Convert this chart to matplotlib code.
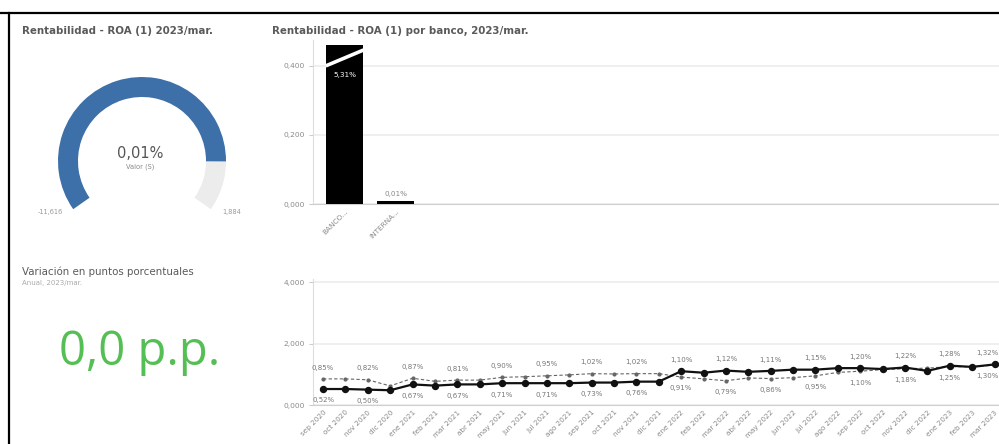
import matplotlib
matplotlib.use("Agg")
import matplotlib.pyplot as plt
from matplotlib.patches import Wedge
from matplotlib.lines import Line2D

W, H = 999, 444

# gauge
gauge_min = -11.616
gauge_max = 1.884
gauge_value = 0.01

# bars by bank
banks = ["BANCO...", "INTERNA..."]
bank_roa = [5.31, 0.01]
bar_ticks = [0.0, 0.2, 0.4]

# KPI
variation_pp = 0.0

# monthly series
months = ["sep 2020", "oct 2020", "nov 2020", "dic 2020",
          "ene 2021", "feb 2021", "mar 2021", "abr 2021", "may 2021", "jun 2021",
          "jul 2021", "ago 2021", "sep 2021", "oct 2021", "nov 2021", "dic 2021",
          "ene 2022", "feb 2022", "mar 2022", "abr 2022", "may 2022", "jun 2022",
          "jul 2022", "ago 2022", "sep 2022", "oct 2022", "nov 2022", "dic 2022",
          "ene 2023", "feb 2023", "mar 2023"]
roa_bank = [0.52, 0.52, 0.50, 0.48, 0.67, 0.63, 0.67, 0.67, 0.71, 0.71,
            0.71, 0.71, 0.73, 0.73, 0.76, 0.76, 1.10, 1.05, 1.12, 1.08,
            1.11, 1.15, 1.15, 1.20, 1.20, 1.17, 1.22, 1.11, 1.28, 1.24, 1.32]
roa_system = [0.85, 0.85, 0.82, 0.62, 0.87, 0.77, 0.81, 0.81, 0.90, 0.92,
              0.95, 0.98, 1.02, 1.01, 1.02, 1.02, 0.91, 0.85, 0.79, 0.88,
              0.86, 0.89, 0.95, 1.06, 1.10, 1.15, 1.18, 1.20, 1.25, 1.24, 1.30]
line_ticks = [0.0, 2.0, 4.0]

TITLE = "#5a5a5a"
AXIS = "#8a8a8a"
GRID = "#ececec"


def rect(x0, y0, x1, y1):
    return [x0 / W, 1 - y1 / H, (x1 - x0) / W, (y1 - y0) / H]


def ftxt(fig, x, y, s, **kw):
    fig.text(x / W, 1 - y / H, s, **kw)


def fmt(v, nd=3, pct=False):
    s = f"{v:.{nd}f}".replace(".", ",")
    return s + "%" if pct else s


def style_axes(ax):
    for side in ["top", "right"]:
        ax.spines[side].set_visible(False)
    ax.spines["left"].set_color("#dddddd")
    ax.spines["bottom"].set_color("#cfcfcf")
    ax.tick_params(axis="y", labelsize=5.4, labelcolor=AXIS, color="#cccccc",
                   length=3, width=0.8, pad=3)
    ax.tick_params(axis="x", labelsize=5.2, labelcolor=AXIS, length=0, pad=3)
    ax.set_axisbelow(True)


def main():
    fig = plt.figure(figsize=(W / 100, H / 100), dpi=100)
    plt.rcParams["font.family"] = ["DejaVu Sans"]

    # frame lines
    fig.add_artist(Line2D([0, 1], [1 - 13 / H] * 2, color="black", lw=1.6))
    fig.add_artist(Line2D([8.5 / W] * 2, [0, 1 - 13 / H], color="black", lw=1.6))

    # titles
    ftxt(fig, 22, 31, "Rentabilidad - ROA (1) 2023/mar.", fontsize=7.4,
         fontweight="bold", color=TITLE, va="center")
    ftxt(fig, 272, 31, "Rentabilidad - ROA (1) por banco, 2023/mar.", fontsize=7.4,
         fontweight="bold", color=TITLE, va="center")
    ftxt(fig, 22, 272, "Variación en puntos porcentuales", fontsize=7.4,
         color=TITLE, va="center")
    ftxt(fig, 22, 283, "Anual, 2023/mar.", fontsize=5, color="#aaaaaa", va="center")

    # KPI
    kpi = f"{variation_pp:.1f}".replace(".", ",") + " p.p."
    ftxt(fig, 140, 352, kpi, fontsize=34, color="#55bf55", ha="center", va="center",
         family=["Open Sans", "DejaVu Sans"])

    # gauge
    cx, cy = 142, 161
    ax_g = fig.add_axes(rect(30, 55, 255, 225))
    ax_g.set_xlim(30 - cx, 255 - cx)
    ax_g.set_ylim(cy - 225, cy - 55)
    ax_g.axis("off")
    a0, a1 = 215, -35
    frac = (gauge_value - gauge_min) / (gauge_max - gauge_min)
    a_val = a0 - frac * (a0 - a1)
    ax_g.add_patch(Wedge((0, 0), 84, a1, a_val, width=20, color="#ececec", lw=0))
    ax_g.add_patch(Wedge((0, 0), 84, a_val, a0, width=20, color="#3d6fa9", lw=0))
    ax_g.text(-2, 8, fmt(gauge_value, 2, True), fontsize=10.5, color="#555555",
              ha="center", va="center")
    ax_g.text(-2, -6, "Valor (S)", fontsize=4.8, color="#888888",
              ha="center", va="center")
    ax_g.text(-92, -51, fmt(gauge_min), fontsize=4.8, color="#999999",
              ha="center", va="center")
    ax_g.text(90, -51, fmt(gauge_max), fontsize=4.8, color="#999999",
              ha="center", va="center")

    # bar chart
    ax_b = fig.add_axes(rect(313, 40, 999, 204))
    ax_b.set_ylim(0, 0.475)
    ax_b.set_xlim(-0.62, 12.83)
    cap = 0.461
    xs = list(range(len(banks)))
    heights = [min(v, cap) for v in bank_roa]
    ax_b.bar(xs, heights, width=0.73, color="black", zorder=3)
    for x, v, h in zip(xs, bank_roa, heights):
        if v > cap:
            ax_b.plot([x - 0.37, x + 0.37], [0.400, 0.446], color="white",
                      lw=2.6, zorder=4, solid_capstyle="butt")
            ax_b.text(x, 0.374, fmt(v, 2, True), fontsize=5.2, color="white",
                      ha="center", va="center", zorder=5)
        else:
            ax_b.text(x, h + 0.018, fmt(v, 2, True), fontsize=5.2, color="#888888",
                      ha="center", va="center")
    ax_b.set_yticks(bar_ticks)
    ax_b.set_yticklabels([fmt(t) for t in bar_ticks])
    ax_b.set_xticks(xs)
    ax_b.set_xticklabels(banks, rotation=45, ha="right", rotation_mode="anchor")
    ax_b.grid(axis="y", color=GRID, lw=1.2, zorder=0)
    style_axes(ax_b)

    # line chart
    ax_l = fig.add_axes(rect(313, 279, 999, 405))
    ax_l.set_ylim(0, 4.1)
    ax_l.set_xlim(-0.45, len(months) - 0.8)
    idx = list(range(len(months)))
    ax_l.plot(idx, roa_system, color="#666666", lw=0.8, ls=(0, (3, 2)),
              marker="o", ms=2, zorder=3)
    ax_l.plot(idx, roa_bank, color="#111111", lw=1.6, marker="o", ms=4.3, zorder=4)
    last = len(months) - 1
    for i in range(0, len(months), 2):
        hi = max(roa_bank[i], roa_system[i])
        lo = min(roa_bank[i], roa_system[i])
        ha = "right" if i == last else "center"
        dx = 3 if i == last else 0
        ax_l.annotate(fmt(hi, 2, True), (i, hi), xytext=(dx, 6),
                      textcoords="offset points", fontsize=5, color="#777777",
                      ha=ha, va="bottom")
        ax_l.annotate(fmt(lo, 2, True), (i, lo), xytext=(dx, -6),
                      textcoords="offset points", fontsize=5, color="#777777",
                      ha=ha, va="top")
    ax_l.set_yticks(line_ticks)
    ax_l.set_yticklabels([fmt(t) for t in line_ticks])
    ax_l.set_xticks(idx)
    ax_l.set_xticklabels(months, rotation=45, ha="right", rotation_mode="anchor")
    ax_l.grid(axis="y", color=GRID, lw=1.2, zorder=0)
    style_axes(ax_l)

    fig.savefig("out.png", dpi=100)


if __name__ == "__main__":
    main()
